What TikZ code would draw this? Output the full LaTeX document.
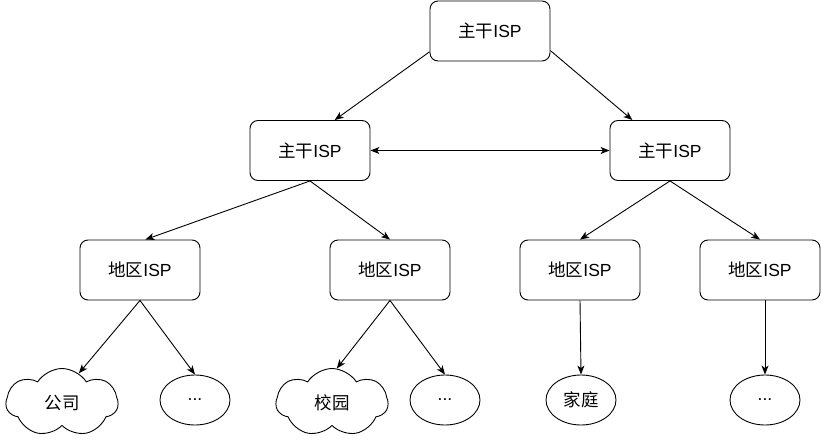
\documentclass[tikz,border=0pt]{standalone}
\usepackage{fontspec}
\setmainfont{Liberation Sans}
\newfontfamily\cjk{Noto Sans CJK SC}
\usetikzlibrary{shapes.geometric,shapes.symbols,arrows.meta}
\begin{document}
\begin{tikzpicture}[x=1pt,y=-1pt,line width=0.9pt,
    ispbox/.style={rectangle,draw,rounded corners=8pt,minimum width=120pt,minimum height=60pt,font=\fontsize{17.5}{20}\selectfont},
    endell/.style={ellipse,draw,minimum width=70pt,minimum height=50pt,inner sep=0pt,font=\fontsize{17.5}{20}\selectfont},
    endcloud/.style={cloud,draw,cloud puffs=7,cloud puff arc=115,aspect=1.7,minimum width=112pt,minimum height=68pt,inner sep=0pt,font=\fontsize{17.5}{20}\selectfont},
    arr/.style={-{Stealth[length=9pt,width=7pt,inset=2.5pt]}}]
    \useasboundingbox (0,0) rectangle (821,441);
    \node[ispbox] (core) at (490,31) {{\cjk 主干}ISP} ;
    \node[ispbox] (bb_l) at (310,150.5) {{\cjk 主干}ISP} ;
    \node[ispbox] (bb_r) at (670,150.5) {{\cjk 主干}ISP} ;
    \node[ispbox] (reg_a) at (140,270) {{\cjk 地区}ISP} ;
    \node[ispbox] (reg_b) at (390,270) {{\cjk 地区}ISP} ;
    \node[ispbox] (reg_c) at (580,270) {{\cjk 地区}ISP} ;
    \node[ispbox] (reg_d) at (760,270) {{\cjk 地区}ISP} ;
    \node[endcloud] (company) at (62,402.5) {\cjk 公司} ;
    \node[endell] (more_a) at (195,400) {...} ;
    \node[endcloud] (campus) at (332,402.5) {\cjk 校园} ;
    \node[endell] (more_b) at (445,400) {...} ;
    \node[endell] (home) at (581,400) {\cjk 家庭} ;
    \node[endell] (more_c) at (765,400) {...} ;
    
    \draw[arr] (core.199) -- (bb_l.51) ;
    \draw[arr] (core.-18) -- (bb_r.141) ;
    \draw[{Stealth[length=9pt,width=7pt,inset=2.5pt]}-{Stealth[length=9pt,width=7pt,inset=2.5pt]}] (bb_l.east) -- (bb_r.west) ;
    \draw[arr] (bb_l.south) -- (reg_a.80) ;
    \draw[arr] (bb_l.south) -- (reg_b.north) ;
    \draw[arr] (bb_r.south) -- (reg_c.north) ;
    \draw[arr] (bb_r.south) -- (reg_d.north) ;
    \draw[arr] (reg_a.south) -- (company.60) ;
    \draw[arr] (reg_a.south) -- (more_a.north) ;
    \draw[arr] (reg_b.south) -- (campus.82) ;
    \draw[arr] (reg_b.south) -- (more_b.north) ;
    \draw[arr] (reg_c.south) -- (home.north) ;
    \draw[arr] ([xshift=5pt]reg_d.south) -- (more_c.north) ;
\end{tikzpicture}
\end{document}
